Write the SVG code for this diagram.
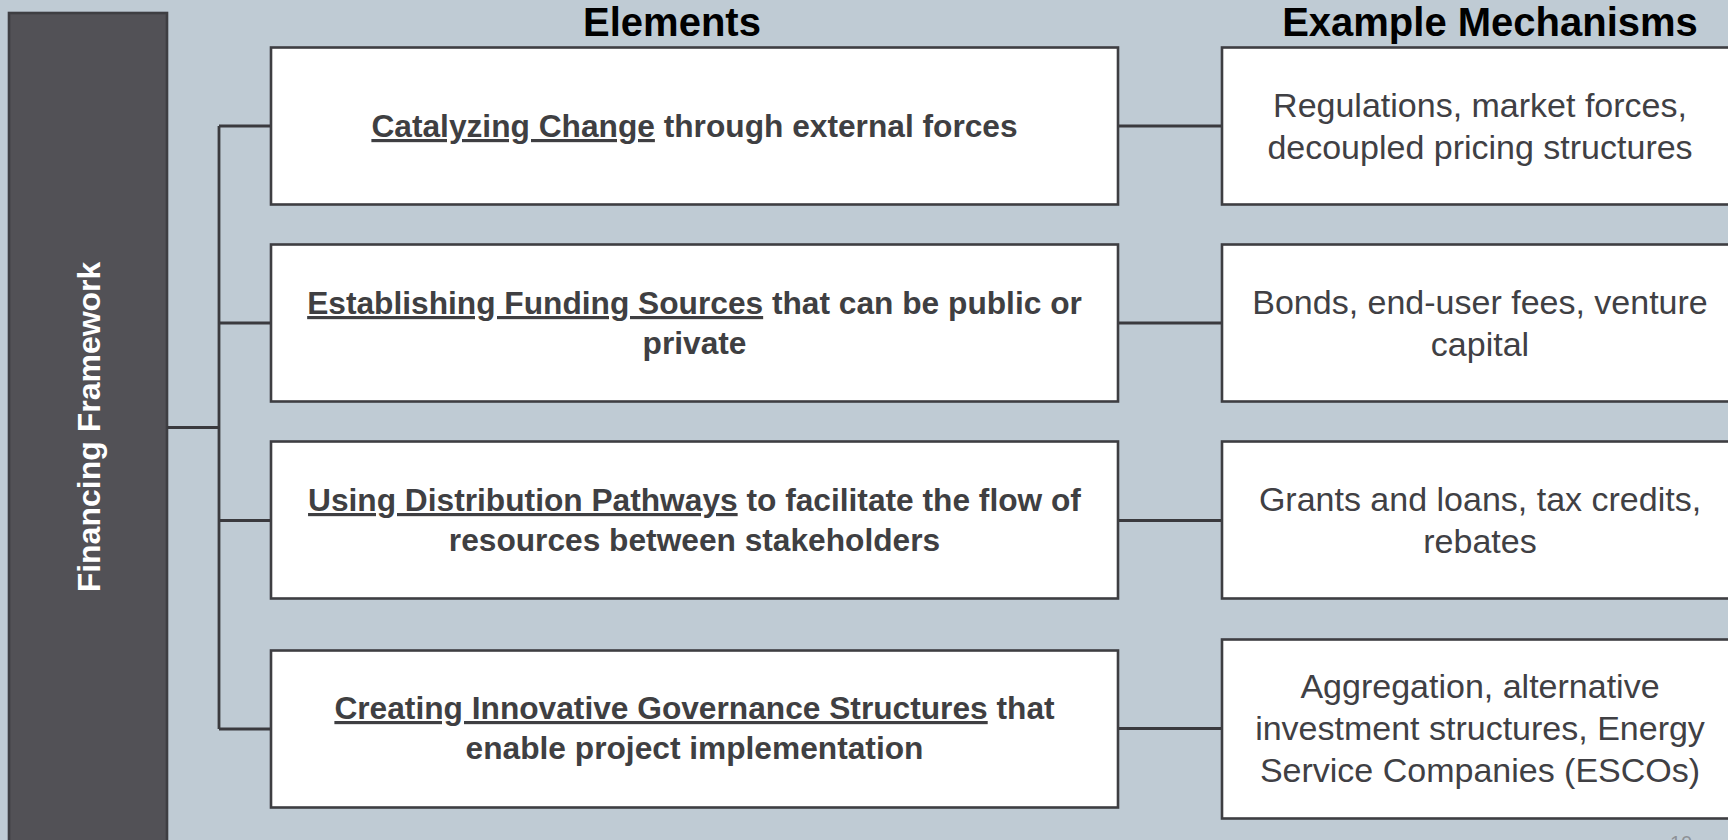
<svg xmlns="http://www.w3.org/2000/svg" width="1728" height="840" viewBox="0 0 1728 840">
<style>
.bg{fill:#bfcbd4}
.box{fill:#ffffff;stroke:#3e3e42;stroke-width:2.6}
.bar{fill:#525156;stroke:#3e3e42;stroke-width:2.6}
.ln{fill:none;stroke:#3a3a3e;stroke-width:2.8}
.hdr{font-family:"Liberation Sans",Arial,sans-serif;font-weight:bold;font-size:40px;fill:#000000;text-anchor:middle}
.el{font-family:"Liberation Sans",Arial,sans-serif;font-weight:bold;font-size:31.7px;fill:#3f3f42;text-anchor:middle}
.mx{font-family:"Liberation Sans",Arial,sans-serif;font-size:34px;fill:#404044;text-anchor:middle}
.u{text-decoration:underline}
.side{font-family:"Liberation Sans",Arial,sans-serif;font-weight:bold;font-size:32px;fill:#ffffff;text-anchor:middle}
.pg{font-family:"Liberation Sans",Arial,sans-serif;font-size:20px;fill:#8e9297;text-anchor:middle}
</style>
<rect class="bg" x="0" y="0" width="1728" height="840"/>

<g id="financing-framework">
<rect class="bar" x="9" y="13" width="158" height="840"/>
<text class="side" transform="translate(100,427) rotate(-90)">Financing Framework</text>
</g>

<g id="headers">
<text class="hdr" x="672" y="36">Elements</text>
<text class="hdr" x="1490" y="36">Example Mechanisms</text>
</g>

<g id="connectors">
<path class="ln" d="M167 427.5 H219 M219 126 V729 M219 126 H271 M219 323 H271 M219 520.5 H271 M219 729 H271"/>
<path class="ln" d="M1118 126 H1222 M1118 323 H1222 M1118 520.5 H1222 M1118 728.5 H1222"/>
</g>

<g id="el-catalyzing">
<rect class="box" x="271" y="47.5" width="847" height="157"/>
<text class="el" x="694.5" y="137"><tspan class="u">Catalyzing Change</tspan> through external forces</text>
</g>
<g id="el-funding">
<rect class="box" x="271" y="244.5" width="847" height="157"/>
<text class="el" x="694.5" y="314"><tspan class="u">Establishing Funding Sources</tspan> that can be public or</text>
<text class="el" x="694.5" y="354">private</text>
</g>
<g id="el-distribution">
<rect class="box" x="271" y="441.5" width="847" height="157"/>
<text class="el" x="694.5" y="511"><tspan class="u">Using Distribution Pathways</tspan> to facilitate the flow of</text>
<text class="el" x="694.5" y="551">resources between stakeholders</text>
</g>
<g id="el-governance">
<rect class="box" x="271" y="650.5" width="847" height="157"/>
<text class="el" x="694.5" y="719"><tspan class="u">Creating Innovative Governance Structures</tspan> that</text>
<text class="el" x="694.5" y="759">enable project implementation</text>
</g>

<g id="mx-regulations">
<rect class="box" x="1222" y="47.5" width="520" height="157"/>
<text class="mx" x="1480" y="117">Regulations, market forces,</text>
<text class="mx" x="1480" y="159">decoupled pricing structures</text>
</g>
<g id="mx-bonds">
<rect class="box" x="1222" y="244.5" width="520" height="157"/>
<text class="mx" x="1480" y="314">Bonds, end-user fees, venture</text>
<text class="mx" x="1480" y="356">capital</text>
</g>
<g id="mx-grants">
<rect class="box" x="1222" y="441.5" width="520" height="157"/>
<text class="mx" x="1480" y="511">Grants and loans, tax credits,</text>
<text class="mx" x="1480" y="553">rebates</text>
</g>
<g id="mx-aggregation">
<rect class="box" x="1222" y="639.5" width="520" height="179"/>
<text class="mx" x="1480" y="698">Aggregation, alternative</text>
<text class="mx" x="1480" y="740">investment structures, Energy</text>
<text class="mx" x="1480" y="782">Service Companies (ESCOs)</text>
</g>

<text class="pg" x="1681" y="850">10</text>
</svg>
